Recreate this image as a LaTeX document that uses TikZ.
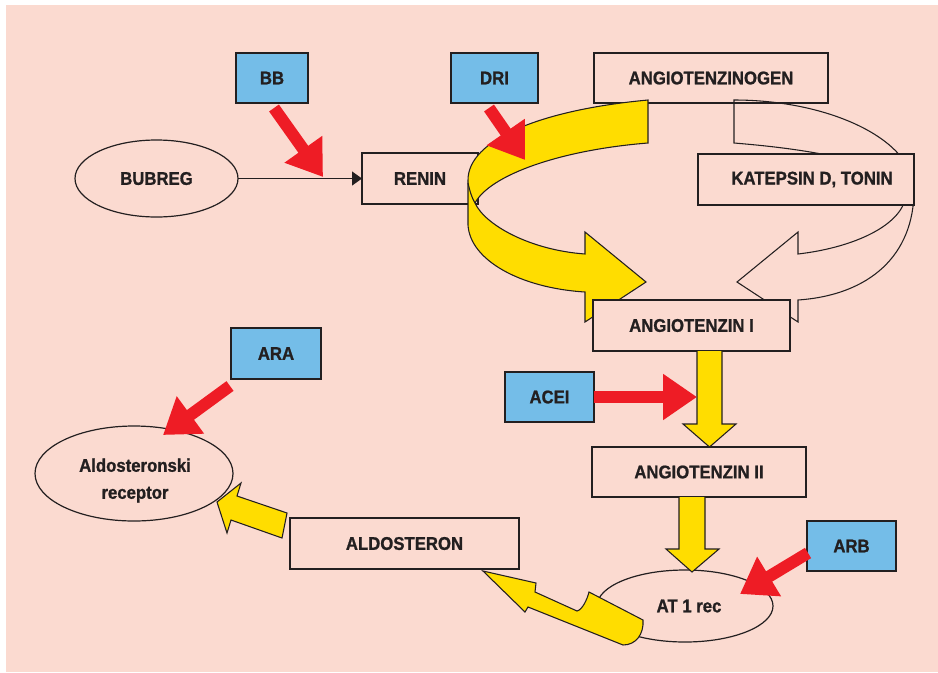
\documentclass[tikz,border=0pt]{standalone}
\usepackage{fontspec}
\setmainfont{Liberation Sans}[FakeStretch=0.91,FakeBold=1]
\usetikzlibrary{shapes.geometric,arrows.meta}
\definecolor{bgpink}{HTML}{FBDAD0}
\definecolor{bluefill}{HTML}{74BDE8}
\definecolor{ylw}{HTML}{FFDD00}
\definecolor{redar}{HTML}{EE1C25}
\definecolor{ink}{HTML}{231F20}
\newcommand\lbl{\fontsize{13.8}{20.25}\selectfont\bfseries}
\tikzset{
  box/.style={draw=ink, line width=0.9pt, fill=bgpink, rectangle, inner sep=0pt, outer sep=0pt, font=\lbl, text=ink},
  bbox/.style={box, fill=bluefill},
  oval/.style={draw=ink, line width=0.9pt, ellipse, inner sep=0pt, outer sep=0pt, font=\lbl, text=ink},
  txt/.style={font=\lbl, text=ink, inner sep=0pt, align=center},
  redarrow/.style={draw=redar, line width=9pt, -{Triangle[length=25.5pt,width=33pt]}},
  thinarrow/.style={draw=ink, line width=0.9pt, -{Triangle[length=7.5pt,width=10.5pt]}},
  yblock/.style={fill=ylw, draw=ink, line width=0.8pt, line join=miter},
  wblock/.style={draw=ink, line width=0.8pt, line join=miter},
}
\begin{document}
\begin{tikzpicture}[x=0.75pt,y=-0.75pt]
\useasboundingbox (0,0) rectangle (938,672);
\fill[bgpink] (6,5) rectangle (938,672);

% boxes behind arrows
\node[box, minimum width=175.5pt, minimum height=37.5pt] (angen) at (711,78) {ANGIOTENZINOGEN};
\node[box, minimum width=87pt, minimum height=38.25pt] (renin) at (420,178.5) {RENIN\hspace{9pt}};

% white curved arrow (katepsin/tonin path)
\draw[wblock] (734,100) .. controls (830,100) and (914,140) .. (914,190)
  .. controls (914,255) and (870,295) .. (798,300) -- (798,322) -- (737,282)
  -- (798,232) -- (798,254) .. controls (850,248) and (897,228) .. (905,200)
  .. controls (905,165) and (820,150) .. (734,143) -- cycle;

\node[box, minimum width=162pt, minimum height=38.25pt] (kat) at (806,179.5) {\hspace{9pt}KATEPSIN D, TONIN};

% big yellow U arrow (renin path)
\draw[yblock] (648,100) .. controls (540,110) and (468,140) .. (468,180) -- (468,225)
  .. controls (470,260) and (520,288) .. (585,292) -- (585,322) -- (646,282)
  -- (585,232) -- (585,254) .. controls (530,250) and (485,225) .. (475,203)
  .. controls (490,175) and (560,150) .. (648,143) -- cycle;
\draw[draw=ink, line width=0.8pt] (468,183) .. controls (470,192) and (472,198) .. (475,203);

\node[box, minimum width=147.75pt, minimum height=38.25pt] (ang1) at (691.5,325.5) {ANGIOTENZIN I};

% other nodes
\node[oval, minimum width=122.25pt, minimum height=57.75pt] (bubreg) at (156.5,178.5) {BUBREG\hspace{9.75pt}};
\node[bbox, minimum width=54pt, minimum height=37.5pt] (bb) at (272,78) {BB};
\node[bbox, minimum width=65.25pt, minimum height=37.5pt] (dri) at (494.5,78) {DRI\hspace{6.75pt}};
\node[bbox, minimum width=66.75pt, minimum height=37.5pt] (acei) at (549.5,397) {ACEI\hspace{9.75pt}};
\node[box, minimum width=160.5pt, minimum height=37.5pt] (ang2) at (699,472) {ANGIOTENZIN II};
\node[bbox, minimum width=66.75pt, minimum height=37.5pt] (arb) at (851.5,546) {ARB};
\node[box, minimum width=171.75pt, minimum height=38.25pt] (aldo) at (404.5,543.5) {ALDOSTERON\hspace{6.75pt}};
\node[bbox, minimum width=67.5pt, minimum height=38.25pt] (ara) at (276,353.5) {ARA};
\node[oval, minimum width=132pt, minimum height=54pt] (at1) at (685,606) {\hspace{6pt}AT 1 rec};
\node[oval, minimum width=148.5pt, minimum height=71.25pt] (aldrec) at (134,473.5) {};
\node[txt] (aldtxt) at (135,480.5) {Aldosteronski\\receptor};

% thin connector
\draw[thinarrow] (bubreg.east) -- (renin.west);

% yellow straight block arrows
\draw[yblock] (697,351) -- (697,424) -- (683,424) -- (709.5,447) -- (736,424) -- (722,424) -- (722,351);
\draw[yblock] (679,497) -- (679,549) -- (666,549) -- (692,572) -- (719,549) -- (705,549) -- (705,497);
\draw[yblock] (287,513) -- (237,496) -- (241,483) -- (217,502) -- (227,533) -- (231,520) -- (282,538) -- cycle;

% bent yellow arrow AT1 -> aldosteron
\draw[yblock] (483,571) -- (536,583) -- (535,592) -- (577,611)
  .. controls (582,610) and (587,600) .. (589,592) -- (643,620)
  .. controls (644,634) and (636,645) .. (623,645) -- (528,607) -- (525,612) -- cycle;

% red inhibitor arrows
\coordinate (bbs) at (274,108);  \coordinate (bbt) at (323,177);
\coordinate (dris) at (489,108); \coordinate (drit) at (525,160);
\coordinate (aras) at (230,386); \coordinate (arat) at (163,435);
\coordinate (aceit) at (697,397);
\coordinate (arbs) at (808,553); \coordinate (arbt) at (740,594);
\draw[redarrow] (bbs) -- (bbt);
\draw[redarrow] (dris) -- (drit);
\draw[redarrow] (aras) -- (arat);
\draw[redarrow] (acei.east) -- (aceit);
\draw[redarrow] (arbs) -- (arbt);
\end{tikzpicture}
\end{document}
